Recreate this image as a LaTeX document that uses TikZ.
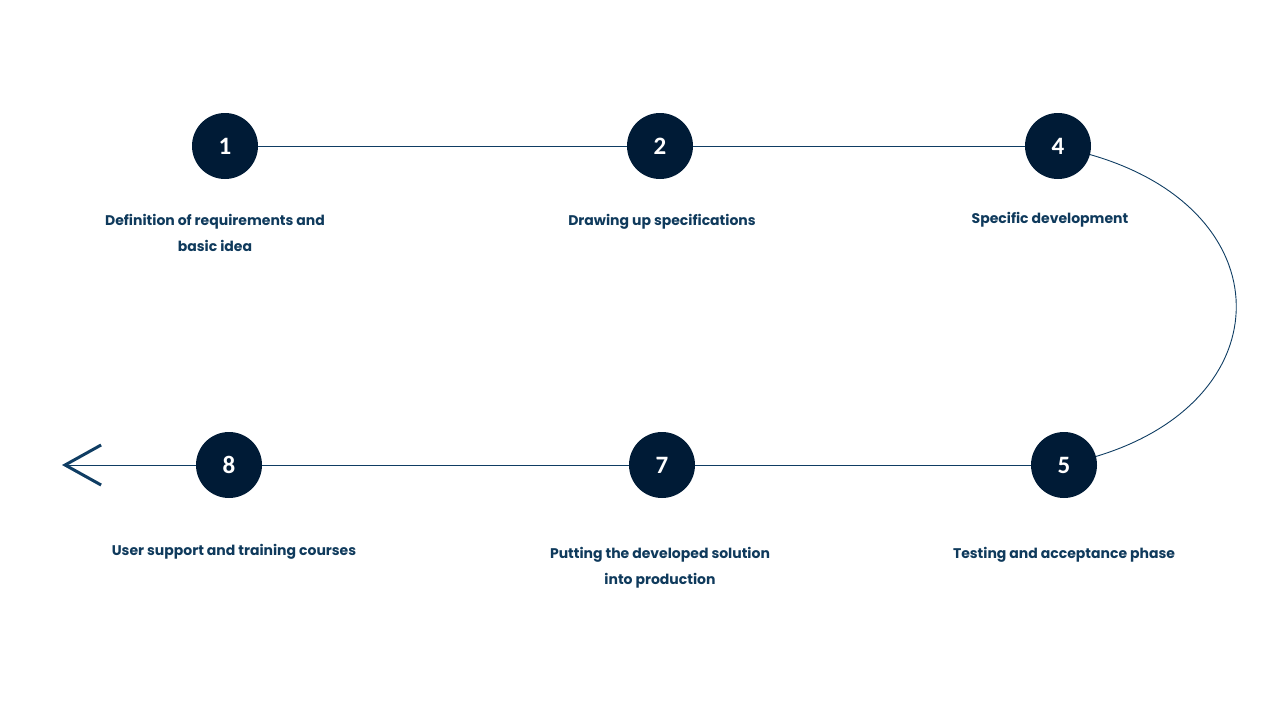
\documentclass[tikz,border=0pt]{standalone}
\usepackage{fontspec}
\setmainfont{Poppins}
\newfontfamily\numfont{Carlito}
\usetikzlibrary{arrows.meta}
\definecolor{navy}{HTML}{001B36}
\definecolor{txt}{HTML}{0F3A5C}
\definecolor{ln}{HTML}{0F3D63}
\tikzset{
  stepcirc/.style={circle, fill=navy, minimum size=66pt, inner sep=0pt, text=white, font=\numfont\bfseries\fontsize{25}{25}\selectfont},
  lbl/.style={text=txt, font=\bfseries\fontsize{14}{26}\selectfont, align=center, inner sep=0pt},
  conn/.style={draw=ln, line width=0.9pt}
}
\begin{document}
\begin{tikzpicture}[x=1pt,y=-1pt]
\useasboundingbox (0,0) rectangle (1280,720);
\node[stepcirc] (n1) at (225,146) {1};
\node[stepcirc] (n2) at (660,146) {2};
\node[stepcirc] (n4) at (1058,146) {4};
\node[stepcirc] (n8) at (229,465) {8};
\node[stepcirc] (n7) at (662,465) {7};
\node[stepcirc] (n5) at (1064,465) {5};
\coordinate (tip) at (62,465);
\draw[conn] (n1) -- (n2);
\draw[conn] (n2) -- (n4);
\draw[conn] (n4.-15) .. controls (1284,210) and (1284,400) .. (n5.15);
\draw[conn] (n5) -- (n7);
\draw[conn] (n7) -- (n8);
\draw[conn, -{Straight Barb[length=36pt,width=40pt,line width=3pt]}] (n8) -- (tip);
\node[lbl] (t1) at (215,233) {Definition of requirements and\\basic idea};
\node[lbl] (t2) at (662,222) {Drawing up specifications};
\node[lbl] (t4) at (1050,220) {Specific development};
\node[lbl] (t8) at (234,552) {User support and training courses};
\node[lbl] (t7) at (660,568) {Putting the developed solution\\into production};
\node[lbl] (t5) at (1064,555) {Testing and acceptance phase};
\end{tikzpicture}
\end{document}
